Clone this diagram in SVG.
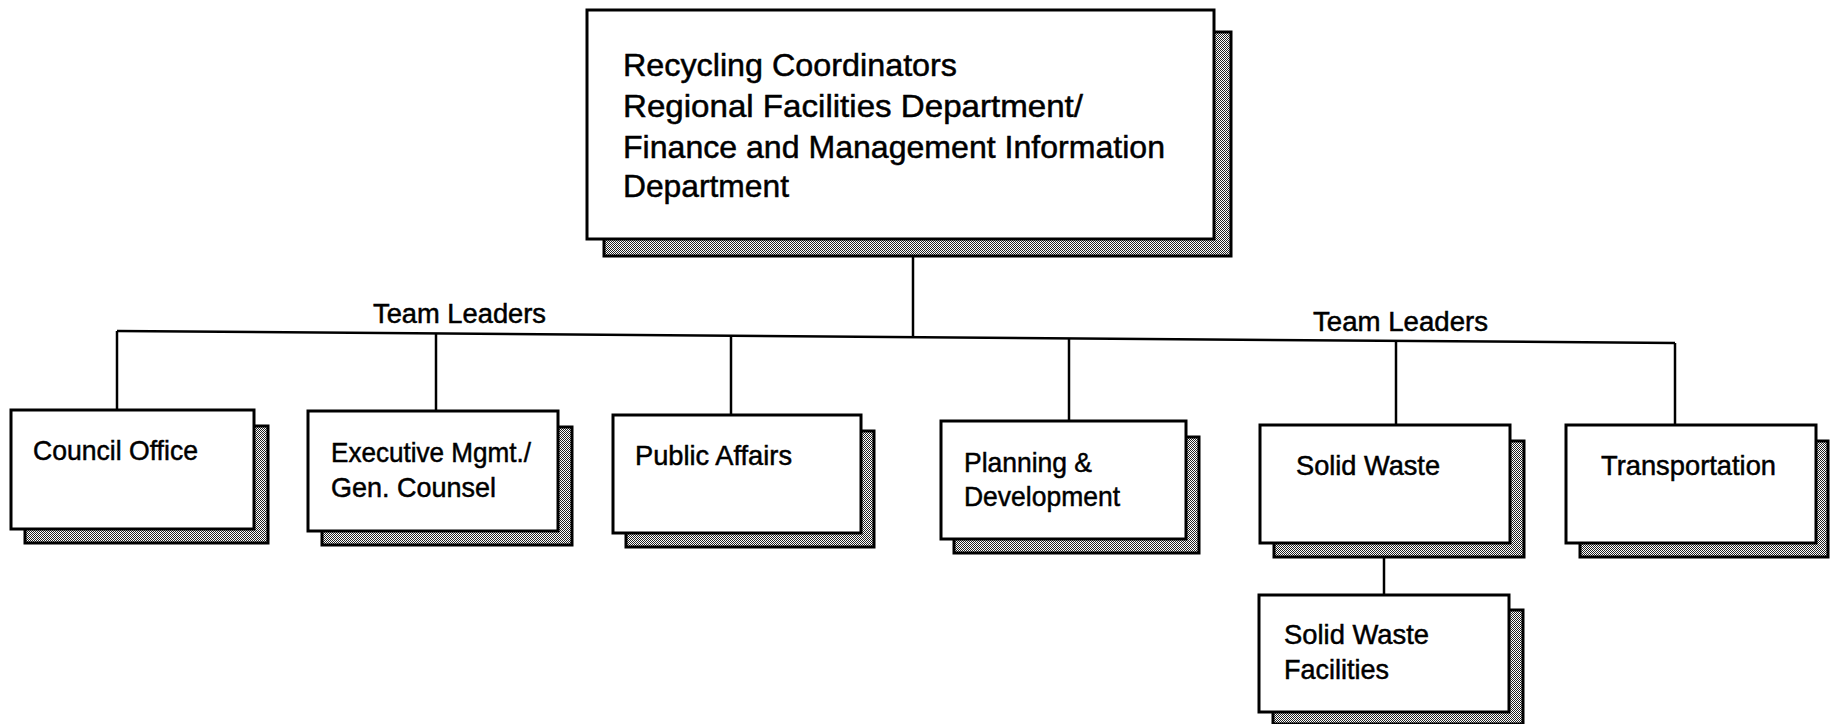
<svg xmlns="http://www.w3.org/2000/svg" width="1830" height="724" viewBox="0 0 1830 724">
<defs>
<pattern id="stip" width="2" height="2" patternUnits="userSpaceOnUse">
<rect width="2" height="2" fill="#fff"/>
<rect x="0" y="0" width="1" height="1" fill="#222"/>
<rect x="1" y="1" width="1" height="1" fill="#222"/>
</pattern>
</defs>
<style>
.box{fill:#fff;stroke:#000;stroke-width:3}
.sh{fill:url(#stip);stroke:#000;stroke-width:3}
.t{font-family:"Liberation Sans",Arial,Helvetica,sans-serif;fill:#000;stroke:#000;stroke-width:0.5}
.big{font-size:32px}
.mid{font-size:28px}
.lbl{font-size:27px}
.ln{stroke:#000;stroke-width:2.5;fill:none}
</style>
<rect width="1830" height="724" fill="#fff"/>
<g id="connectors">
<line class="ln" x1="913" y1="256" x2="913" y2="336"/>
<line class="ln" x1="117" y1="331" x2="1675" y2="343"/>
<line class="ln" x1="117" y1="331" x2="117" y2="411"/>
<line class="ln" x1="436" y1="333" x2="436" y2="412"/>
<line class="ln" x1="731" y1="336" x2="731" y2="416"/>
<line class="ln" x1="1069" y1="338" x2="1069" y2="422"/>
<line class="ln" x1="1396" y1="341" x2="1396" y2="426"/>
<line class="ln" x1="1675" y1="343" x2="1675" y2="426"/>
<line class="ln" x1="1384" y1="557" x2="1384" y2="595"/>
<text class="t lbl" x="373" y="323" textLength="173" lengthAdjust="spacingAndGlyphs">Team Leaders</text>
<text class="t lbl" x="1313" y="331" textLength="175" lengthAdjust="spacingAndGlyphs">Team Leaders</text>
</g>
<g id="top">
<rect class="sh" x="604" y="32" width="627" height="224"/>
<rect class="box" x="587" y="10" width="627" height="229"/>
<text class="t big" x="623" y="76" textLength="334" lengthAdjust="spacingAndGlyphs">Recycling Coordinators</text>
<text class="t big" x="623" y="117" textLength="460" lengthAdjust="spacingAndGlyphs">Regional Facilities Department/</text>
<text class="t big" x="623" y="158" textLength="542" lengthAdjust="spacingAndGlyphs">Finance and Management Information</text>
<text class="t big" x="623" y="197" textLength="166" lengthAdjust="spacingAndGlyphs">Department</text>
</g>
<g id="council">
<rect class="sh" x="25" y="426" width="243" height="117"/>
<rect class="box" x="11" y="410" width="243" height="119"/>
<text class="t mid" x="33" y="460" textLength="165" lengthAdjust="spacingAndGlyphs">Council Office</text>
</g>
<g id="executive">
<rect class="sh" x="322" y="427" width="250" height="118"/>
<rect class="box" x="308" y="411" width="250" height="120"/>
<text class="t mid" x="331" y="462" textLength="200" lengthAdjust="spacingAndGlyphs">Executive Mgmt./</text>
<text class="t mid" x="331" y="497" textLength="165" lengthAdjust="spacingAndGlyphs">Gen. Counsel</text>
</g>
<g id="public">
<rect class="sh" x="626" y="431" width="248" height="116"/>
<rect class="box" x="613" y="415" width="248" height="118"/>
<text class="t mid" x="635" y="465" textLength="157" lengthAdjust="spacingAndGlyphs">Public Affairs</text>
</g>
<g id="planning">
<rect class="sh" x="954" y="437" width="245" height="116"/>
<rect class="box" x="941" y="421" width="245" height="118"/>
<text class="t mid" x="964" y="472" textLength="128" lengthAdjust="spacingAndGlyphs">Planning &amp;</text>
<text class="t mid" x="964" y="506" textLength="156" lengthAdjust="spacingAndGlyphs">Development</text>
</g>
<g id="solidwaste">
<rect class="sh" x="1274" y="441" width="250" height="116"/>
<rect class="box" x="1260" y="425" width="250" height="118"/>
<text class="t mid" x="1296" y="475" textLength="144" lengthAdjust="spacingAndGlyphs">Solid Waste</text>
</g>
<g id="transportation">
<rect class="sh" x="1580" y="441" width="248" height="116"/>
<rect class="box" x="1566" y="425" width="250" height="118"/>
<text class="t mid" x="1601" y="475" textLength="175" lengthAdjust="spacingAndGlyphs">Transportation</text>
</g>
<g id="swfacilities">
<rect class="sh" x="1273" y="610" width="250" height="114"/>
<rect class="box" x="1259" y="595" width="250" height="117"/>
<text class="t mid" x="1284" y="644" textLength="145" lengthAdjust="spacingAndGlyphs">Solid Waste</text>
<text class="t mid" x="1284" y="679" textLength="105" lengthAdjust="spacingAndGlyphs">Facilities</text>
</g>
</svg>
